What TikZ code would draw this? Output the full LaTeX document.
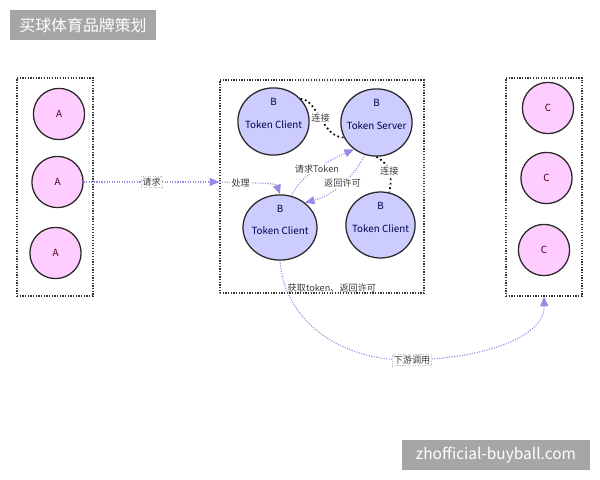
\documentclass[tikz,border=0pt]{standalone}
\usepackage{fontspec}
\setmainfont{Noto Sans CJK SC}
\usetikzlibrary{arrows.meta, positioning, shapes.geometric}
\definecolor{pinkfill}{RGB}{255,204,255}
\definecolor{bluefill}{RGB}{204,204,255}
\definecolor{flow}{RGB}{150,140,230}
\definecolor{rim}{RGB}{40,40,40}
\definecolor{bannergray}{RGB}{166,166,166}
\definecolor{txt}{RGB}{60,60,60}

\begin{document}
\begin{tikzpicture}[
        x=0.025cm, y=-0.025cm,
        arr/.style={-{Triangle[length=2.4mm, width=2mm]}, flow, densely dotted, line width=0.8pt},
        link/.style={black, dotted, line width=1.2pt},
        groupbox/.style={draw=black!80, densely dotted, line width=0.9pt, minimum width=1.9cm, minimum height=5.45cm},
        adot/.style={circle, draw=rim, line width=0.9pt, fill=pinkfill, minimum size=1.28cm,
            font=\fontsize{7}{8}\selectfont, text=black!60!purple},
        bnode/.style={ellipse, draw=rim, line width=0.9pt, fill=bluefill, inner sep=0pt,
            minimum width=1.78cm, minimum height=1.68cm,
            label={[bsub]north:B}, label={[bmid]center:#1}},
        bsub/.style={anchor=center, yshift=-0.36cm, font=\fontsize{7}{8}\selectfont, text=black!70!blue},
        bmid/.style={anchor=center, yshift=-0.08cm, font=\fontsize{7}{8}\selectfont, text=black!70!blue},
        lbl/.style={font=\fontsize{6.5}{7}\selectfont, text=txt, fill=white, inner sep=1pt},
        tag/.style={lbl, draw=black!25, line width=0.4pt},
        banner/.style={fill=bannergray, text=white, inner sep=0pt, minimum height=0.75cm,
            font=\fontsize{11.3}{13}\selectfont},
    ]
    \useasboundingbox (0,0) rectangle (600,480);

    %% ---- Banners ----
    \node[banner, minimum width=3.65cm] (title) at (83,25) {买球体育品牌策划};
    \node[banner, minimum width=4.7cm, font=\fontsize{11}{13}\selectfont] (site) at (496,455)
        {zhofficial-buyball.com};

    %% ---- Groups ----
    \node[groupbox] (lbox) at (55,187) {};
    \node[groupbox, minimum width=5.1cm, minimum height=5.325cm] (mbox) at (322,186.5) {};
    \node[groupbox] (rbox) at (544,187) {};

    % callers and downstream services
    \foreach \i/\px/\py in {1/59/114, 2/57.5/182, 3/55.5/253} {
        \node[adot] (a\i) at (\px,\py) {A};
    }
    \foreach \i/\px/\py in {1/548/108, 2/546.5/178, 3/544/250} {
        \node[adot] (c\i) at (\px,\py) {C};
    }

    % token clients and server
    \node[bnode=Token Client] (bcl1) at (273.5,121.5) {};
    \node[bnode=Token Server] (bsrv) at (376.5,122.5) {};
    \node[bnode=Token Client, minimum width=1.85cm, minimum height=1.63cm] (bcl) at (280,227.5) {};
    \node[bnode=Token Client, minimum width=1.73cm, minimum height=1.65cm] (bcr) at (380.5,225) {};

    %% ---- Connectors ----
    \draw[arr] (a2.east) -- (a2.east -| mbox.west) node[tag, midway]{请求};
    \draw[arr] (a2.east -| mbox.west) .. controls (255,183) and (276,183) .. (bcl.north)
        node[lbl, pos=0.22]{处理};
    \draw[arr] (bcl.70) .. controls (300,175) and (330,160) .. (bsrv.230)
        node[lbl, midway]{请求Token};
    \draw[arr] (bsrv.250) .. controls (355,175) and (335,195) .. (bcl.45)
        node[lbl, midway]{返回许可};

    \draw[link] (bcl1.40) .. controls (318,100) and (322,137) .. (bsrv.205)
        node[lbl, midway]{连接};
    \draw[link] (bsrv.south) .. controls (390,165) and (393,175) .. (bcr.75)
        node[lbl, midway]{连接};

    \draw[arr] (bcl.south) .. controls (284,320) and (340,362) .. (412,360)
        node[lbl, fill=none, pos=0.16, anchor=west]{获取token、返回许可}
        node[tag]{下游调用}
        .. controls (490,358) and (545,335) .. (rbox.south);

\end{tikzpicture}
\end{document}
